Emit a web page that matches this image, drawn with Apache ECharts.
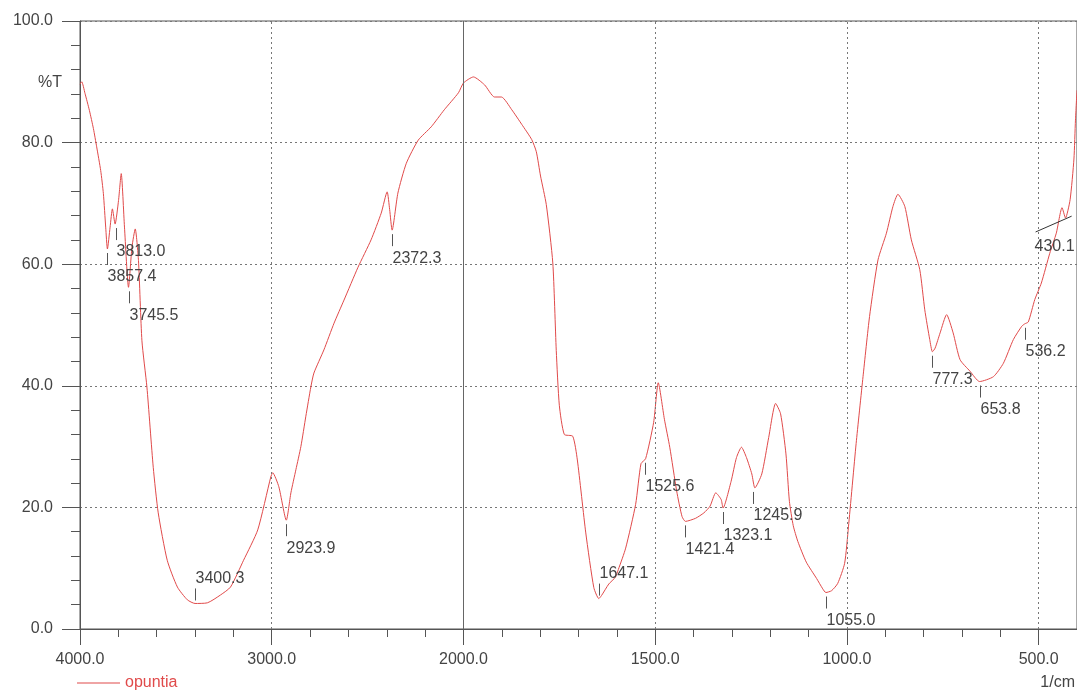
<!DOCTYPE html>
<html>
<head>
<meta charset="utf-8">
<script src="https://cdn.jsdelivr.net/npm/echarts@6/dist/echarts.min.js"></script>
<style>
  html, body { margin: 0; padding: 0; background: #fff; }
  #main { width: 1077px; height: 691px; }
</style>
</head>
<body>
<div id="main"></div>
<script>
    // spectrum (1/cm, %T)
    var wavenumber = [4000, 3991, 3974, 3951, 3930, 3913, 3892, 3878, 3866, 3857, 3843, 3831, 3817, 3799, 3785, 3768, 3747, 3729, 3712, 3695,
        3677, 3651, 3618, 3592, 3545, 3492, 3440, 3400, 3336, 3267, 3215, 3147, 3073, 3005, 2995, 2963, 2924, 2900, 2874, 2848,
        2822, 2796, 2780, 2728, 2675, 2623, 2550, 2482, 2429, 2398, 2385, 2372, 2342, 2298, 2236, 2168, 2100, 2026, 2000, 1974,
        1945, 1919, 1901, 1874, 1848, 1822, 1810, 1799, 1784, 1767, 1758, 1750, 1737, 1715, 1703, 1681, 1660, 1647, 1640, 1621,
        1604, 1596, 1577, 1551, 1537, 1525, 1504, 1492, 1476, 1462, 1444, 1430, 1421, 1395, 1373, 1357, 1342, 1328, 1323, 1302,
        1288, 1275, 1262, 1248, 1240, 1222, 1204, 1186, 1173, 1159, 1150, 1140, 1128, 1106, 1079, 1063, 1055, 1040, 1024, 1006,
        996, 976, 958, 941, 919, 897, 880, 867, 849, 832, 810, 797, 784, 777, 770, 757, 740, 723, 705, 679,
        654, 618, 592, 566, 544, 536, 527, 510, 493, 471, 454, 439, 430, 418, 408, 404, 400];
    var transmittance = [89.6, 90.0, 88.1, 85.3, 82.3, 79.3, 75.4, 71.6, 66.1, 62.5, 66.1, 69.1, 66.6, 70.5, 74.9, 66.1, 56.2, 62.8, 65.8, 60.6,
        47.4, 39.8, 26.6, 19.1, 11.3, 6.9, 4.8, 4.2, 4.3, 5.6, 6.9, 11.3, 16.3, 25.0, 25.7, 23.4, 17.9, 22.4, 26.2, 30.0,
        35.0, 39.8, 42.1, 45.9, 50.3, 54.1, 59.5, 64.0, 68.4, 71.9, 69.0, 65.6, 71.7, 76.6, 80.4, 82.6, 85.4, 88.2, 89.8, 90.8,
        89.5, 87.5, 87.5, 85.4, 83.0, 80.5, 78.5, 74.5, 69.8, 60.2, 45.8, 36.8, 32.0, 31.7, 27.8, 15.8, 6.8, 5.0, 5.5, 7.4,
        8.5, 9.8, 13.3, 20.5, 27.2, 28.0, 34.0, 40.5, 34.5, 29.9, 22.7, 18.5, 17.7, 18.2, 19.1, 20.2, 22.4, 21.3, 19.9, 24.3,
        28.2, 29.9, 28.2, 25.5, 23.2, 25.5, 31.5, 37.1, 35.4, 28.8, 21.0, 17.0, 14.4, 11.0, 8.3, 6.6, 6.0, 6.3, 7.5, 10.8,
        16.8, 30.5, 41.5, 51.4, 60.7, 65.1, 69.5, 71.5, 69.5, 64.0, 59.1, 52.5, 47.6, 45.6, 46.2, 48.7, 51.7, 48.7, 44.3, 42.4,
        40.7, 41.5, 43.7, 47.6, 49.8, 50.2, 50.5, 54.2, 56.9, 61.8, 65.1, 69.3, 67.6, 70.6, 77.3, 83.7, 88.6];

    // picked peaks
    var peakWn = [3857.4, 3813.0, 3745.5, 3400.3, 2923.9, 2372.3, 1647.1, 1525.6, 1421.4, 1323.1, 1245.9, 1055.0, 777.3, 653.8, 536.2, 430.1];
    var peakT = [62.5, 66.6, 56.2, 4.2, 17.9, 65.6, 5.0, 28.0, 17.7, 19.9, 23.2, 6.0, 45.6, 40.7, 50.2, 67.6];
    var peakSide = ['down', 'down', 'down', 'up', 'down', 'down', 'up', 'down', 'down', 'down', 'down', 'down', 'down', 'down', 'down', 'base'];

    // baseline drawn for the 430.1 peak
    var baselineWn = [508, 414];
    var baselineT = [65.3, 67.9];

    var xTicks = [4000, 3000, 2000, 1500, 1000, 500];

    // the recorder uses double scale below 2000 1/cm
    function toU(w) { return w >= 2000 ? (4000 - w) / 2 : 1000 + (2000 - w); }

    var uMax = toU(400);
    var minorU = [];
    for (var k = 0; k <= uMax; k += 100) minorU.push(k);

    var lineColor = '#e04a4a';
    var textColor = '#444';
    var font = '"Liberation Sans", Arial, sans-serif';
    var fs = 16;

    var spectrum = wavenumber.map(function (w, i) { return [toU(w), transmittance[i]]; });

    var dom = document.getElementById('main');
    var chart = echarts.init(dom, null, { renderer: 'canvas' });

    var option = {
        animation: false,
        grid: { left: 80, right: 0, top: 21, bottom: 62, show: true, borderColor: '#555', borderWidth: 1 },
        xAxis: [{
            type: 'value', min: 0, max: uMax,
            axisLine: { lineStyle: { color: '#555' } },
            axisTick: { inside: false, length: 16, customValues: xTicks.map(toU), lineStyle: { color: '#555' } },
            axisLabel: {
                customValues: xTicks.map(toU), margin: 23, color: textColor, fontSize: fs, fontFamily: font,
                formatter: function (u) { return (u <= 1000 ? 4000 - 2 * u : 3000 - u).toFixed(1); }
            },
            splitLine: { show: false }
        }, {
            type: 'value', min: 0, max: uMax, position: 'bottom',
            axisLine: { show: false },
            axisTick: { inside: false, length: 8, customValues: minorU, lineStyle: { color: '#555' } },
            axisLabel: { show: false },
            splitLine: { show: false }
        }],
        yAxis: {
            type: 'value', min: 0, max: 100, interval: 20,
            axisLine: { show: true, lineStyle: { color: '#555' } },
            axisTick: { show: true, inside: false, length: 18, lineStyle: { color: '#555' } },
            minorTick: { show: true, splitNumber: 5, length: 9, lineStyle: { color: '#555' } },
            axisLabel: { margin: 27, color: textColor, fontSize: fs, fontFamily: font, formatter: function (v) { return v.toFixed(1); } },
            splitLine: { show: true, lineStyle: { color: '#777', type: [2, 3] } }
        },
        legend: {
            data: ['opuntia'], left: 77, top: 675, padding: 0,
            icon: 'rect', itemWidth: 43, itemHeight: 1, itemGap: 6,
            textStyle: { color: lineColor, fontSize: fs, fontFamily: font }
        },
        graphic: [
            { type: 'text', right: 1077 - 62, top: 75, style: { text: '%T', fill: textColor, font: fs + 'px ' + font } },
            { type: 'text', right: 2, top: 675, style: { text: '1/cm', fill: textColor, font: fs + 'px ' + font } }
        ],
        series: [{
            name: 'opuntia',
            type: 'line',
            data: spectrum,
            showSymbol: false,
            smooth: 0.2,
            lineStyle: { color: lineColor, width: 1 },
            itemStyle: { color: lineColor },
            markLine: {
                silent: true, symbol: 'none', label: { show: false },
                data: xTicks.slice(1).map(function (w) {
                    return {
                        xAxis: toU(w),
                        lineStyle: w === 2000 ? { color: '#666', type: 'solid', width: 1 } : { color: '#777', type: [2, 3], width: 1 }
                    };
                })
            },
            z: 3
        }, {
            type: 'line',
            data: baselineWn.map(function (w, i) { return [toU(w), baselineT[i]]; }),
            showSymbol: false,
            lineStyle: { color: '#333', width: 1 },
            silent: true,
            z: 4
        }, {
            type: 'custom',
            silent: true,
            data: peakWn.map(function (w, i) { return [toU(w), peakT[i]]; }),
            renderItem: function (params, api) {
                var p = api.coord([api.value(0), api.value(1)]);
                var side = peakSide[params.dataIndex];
                var text = peakWn[params.dataIndex].toFixed(1);
                var x = Math.round(p[0]) + 0.5;
                var y = p[1];
                var tick = { stroke: '#555', lineWidth: 1 };
                var txt = { fill: textColor, font: fs + 'px ' + font, verticalAlign: 'middle' };
                var kids = [];
                if (side === 'down') {
                    kids.push({ type: 'line', shape: { x1: x, y1: y + 4, x2: x, y2: y + 16 }, style: tick });
                    kids.push({ type: 'text', style: Object.assign({ text: text, x: x, y: y + 28 }, txt) });
                } else if (side === 'up') {
                    kids.push({ type: 'line', shape: { x1: x, y1: y - 15, x2: x, y2: y - 3 }, style: tick });
                    kids.push({ type: 'text', style: Object.assign({ text: text, x: x, y: y - 25 }, txt) });
                } else {
                    kids.push({ type: 'text', style: Object.assign({ text: text, x: x - 31, y: y + 29 }, txt) });
                }
                return { type: 'group', children: kids };
            },
            z: 5
        }]
    };

    chart.setOption(option);
    window.addEventListener('resize', chart.resize);
</script>
</body>
</html>
